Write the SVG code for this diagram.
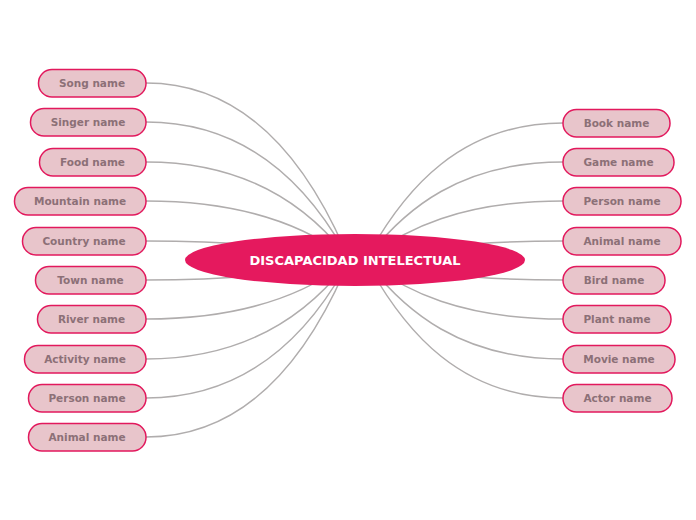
<svg xmlns="http://www.w3.org/2000/svg" width="696" height="520" viewBox="0 0 696 520">
<style>
.c{fill:none;stroke:#b0adad;stroke-width:1.5}
.n rect{fill:#e8c5cb;stroke:#e2195d;stroke-width:1.5}
.n text{font-family:"DejaVu Sans",Verdana,sans-serif;font-weight:bold;font-size:10.5px;fill:#8c7077;text-anchor:middle;dominant-baseline:central}
.m text{font-family:"DejaVu Sans",Verdana,sans-serif;font-weight:bold;font-size:13px;fill:#ffffff;text-anchor:middle;dominant-baseline:central}
</style>
<rect width="696" height="520" fill="#ffffff"/>
<g id="connectors">
<path class="c" d="M146,83 C250,83 310,170 345,250"/>
<path class="c" d="M146,122 C250,122 310,190 345,252"/>
<path class="c" d="M146,162 C250,162 310,210 345,254"/>
<path class="c" d="M146,201 C250,201 310,230 345,256"/>
<path class="c" d="M146,241 C250,241 310,250 345,258"/>
<path class="c" d="M146,280 C250,280 310,270 345,262"/>
<path class="c" d="M146,319 C250,319 310,290 345,264"/>
<path class="c" d="M146,359 C250,359 310,310 345,266"/>
<path class="c" d="M146,398 C250,398 310,330 345,268"/>
<path class="c" d="M146,437 C250,437 310,350 345,270"/>
<path class="c" d="M563,123 C460,123 405,190 370,252"/>
<path class="c" d="M563,162 C460,162 405,210 370,254"/>
<path class="c" d="M563,201 C460,201 405,230 370,256"/>
<path class="c" d="M563,241 C460,241 405,250 370,258"/>
<path class="c" d="M563,280 C460,280 405,270 370,262"/>
<path class="c" d="M563,319 C460,319 405,290 370,264"/>
<path class="c" d="M563,359 C460,359 405,310 370,266"/>
<path class="c" d="M563,398 C460,398 405,330 370,268"/>
</g>
<g id="center" class="m"><ellipse cx="355" cy="260" rx="170" ry="26" fill="#e5195e"/><text x="355" y="260">DISCAPACIDAD INTELECTUAL</text></g>
<g id="song" class="n"><rect x="38.5" y="69.5" width="107.5" height="27.5" rx="13.5"/><text x="92" y="83">Song name</text></g>
<g id="singer" class="n"><rect x="30.5" y="108.5" width="115.5" height="27.5" rx="13.5"/><text x="88" y="122">Singer name</text></g>
<g id="food" class="n"><rect x="39.5" y="148.5" width="106.5" height="27.5" rx="13.5"/><text x="92.5" y="162">Food name</text></g>
<g id="mountain" class="n"><rect x="14.5" y="187.5" width="131.5" height="27.5" rx="13.5"/><text x="80" y="201">Mountain name</text></g>
<g id="country" class="n"><rect x="22.5" y="227.5" width="123.5" height="27.5" rx="13.5"/><text x="84" y="241">Country name</text></g>
<g id="town" class="n"><rect x="35.5" y="266.5" width="110.5" height="27.5" rx="13.5"/><text x="90.5" y="280">Town name</text></g>
<g id="river" class="n"><rect x="37.5" y="305.5" width="108.5" height="27.5" rx="13.5"/><text x="91.5" y="319">River name</text></g>
<g id="activity" class="n"><rect x="24.5" y="345.5" width="121.5" height="27.5" rx="13.5"/><text x="85" y="359">Activity name</text></g>
<g id="person-l" class="n"><rect x="28.5" y="384.5" width="117.5" height="27.5" rx="13.5"/><text x="87" y="398">Person name</text></g>
<g id="animal-l" class="n"><rect x="28.5" y="423.5" width="117.5" height="27.5" rx="13.5"/><text x="87" y="437">Animal name</text></g>
<g id="book" class="n"><rect x="563" y="109.5" width="107" height="27.5" rx="13.5"/><text x="616.5" y="123">Book name</text></g>
<g id="game" class="n"><rect x="563" y="148.5" width="111" height="27.5" rx="13.5"/><text x="618.5" y="162">Game name</text></g>
<g id="person-r" class="n"><rect x="563" y="187.5" width="118" height="27.5" rx="13.5"/><text x="622" y="201">Person name</text></g>
<g id="animal-r" class="n"><rect x="563" y="227.5" width="118" height="27.5" rx="13.5"/><text x="622" y="241">Animal name</text></g>
<g id="bird" class="n"><rect x="563" y="266.5" width="102" height="27.5" rx="13.5"/><text x="614" y="280">Bird name</text></g>
<g id="plant" class="n"><rect x="563" y="305.5" width="108" height="27.5" rx="13.5"/><text x="617" y="319">Plant name</text></g>
<g id="movie" class="n"><rect x="563" y="345.5" width="112" height="27.5" rx="13.5"/><text x="619" y="359">Movie name</text></g>
<g id="actor" class="n"><rect x="563" y="384.5" width="109" height="27.5" rx="13.5"/><text x="617.5" y="398">Actor name</text></g>
</svg>
